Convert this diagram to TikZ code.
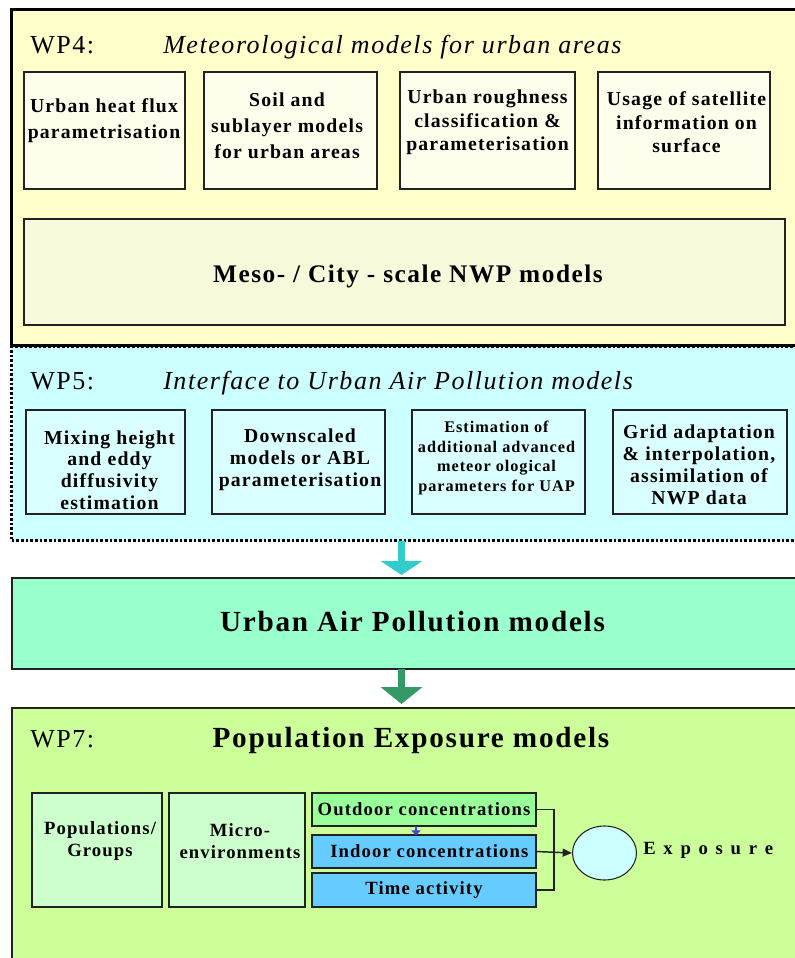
\documentclass[tikz,border=0pt]{standalone}
\usepackage{fontspec}
\setmainfont[LetterSpace=6]{Liberation Serif}
\usetikzlibrary{arrows.meta,calc,shapes.geometric}

\definecolor{wpfour}{HTML}{FFFFCC}
\definecolor{wpfourin}{HTML}{FEFEEC}
\definecolor{mesofill}{HTML}{F8F8DA}
\definecolor{wpfive}{HTML}{CCFFFF}
\definecolor{wpfivein}{HTML}{DAFFFF}
\definecolor{uapfill}{HTML}{99FFCC}
\definecolor{wpseven}{HTML}{CCFF99}
\definecolor{popfill}{HTML}{CCFFCC}
\definecolor{outfill}{HTML}{99FF99}
\definecolor{infill}{HTML}{66CCFF}
\definecolor{expofill}{HTML}{CCFFFF}
\definecolor{arrowcyan}{HTML}{33CCCC}
\definecolor{arrowgreen}{HTML}{339966}
\definecolor{edge}{HTML}{222222}
\definecolor{linkblue}{HTML}{4444DD}

\begin{document}
\begin{tikzpicture}[x=0.75pt,y=-0.75pt,
  sz/.style 2 args={minimum width=#1*0.75pt, minimum height=#2*0.75pt},
  panel/.style={rectangle, inner sep=0pt, outer sep=0pt},
  inbox/.style={panel, draw=edge, line width=1.2pt},
  txt/.style={inner sep=0pt, outer sep=0pt, align=center},
  wptag/.style={inner sep=0pt, anchor=base west, font=\fontsize{19.5}{21}\selectfont},
  wptitle/.style={inner sep=0pt, anchor=base west, font=\fontsize{19.5}{21}\selectfont\itshape},
  bigtitle/.style={inner sep=0pt, anchor=base, font=\fontsize{21.9}{25}\selectfont\bfseries},
  boxfont/.style={font=\fontsize{14.8}{#1}\selectfont\bfseries},
  smallfont/.style={font=\fontsize{14}{16.5}\selectfont\bfseries},
  bigarrow/.style={line width=5.7pt, -{Triangle[width=30.75pt,length=#1]}},
  conn/.style={draw=edge, line width=1.1pt}
]
\useasboundingbox (0,0) rectangle (794,958);

% ---------- WP5 panel (dotted frame, drawn first) ----------
\node[panel, sz={788.5}{193.5}, fill=wpfive, draw=black,
      line width=2.2pt, dash pattern=on 2pt off 1.5pt] (wp5) at (405.75,443.75) {};

% ---------- WP4 panel ----------
\node[panel, sz={788.5}{336}, fill=wpfour, draw=black, line width=2.25pt] (wp4) at (405.75,177) {};
\node[wptag] (wp4tag) at (30,53) {WP4:};
\node[wptitle] (wp4title) at (163,53) {Meteorological models for urban areas};

\node[inbox, fill=wpfourin, sz={161}{117}] (a1) at (104.5,130.5) {};
\node[inbox, fill=wpfourin, sz={173}{117}] (a2) at (290.5,130.5) {};
\node[inbox, fill=wpfourin, sz={175}{117}] (a3) at (487.5,130.5) {};
\node[inbox, fill=wpfourin, sz={172}{117}] (a4) at (684,130.5) {};
\node[txt, boxfont=19.5pt] (a1t) at (104,121) {Urban heat flux\\parametrisation};
\node[txt, boxfont=19.5pt] (a2t) at (287,125.5) {Soil and\\sublayer models\\for urban areas};
\node[txt, boxfont=17.6pt] (a3t) at (487.5,122.5) {Urban roughness\\classification \&\\parameterisation};
\node[txt, boxfont=17.6pt] (a4t) at (686.5,122.5) {Usage of satellite\\information on\\surface};

\node[inbox, fill=mesofill, sz={761}{106}] (meso) at (404.5,272) {};
\node[inner sep=0pt, anchor=base, font=\fontsize{19}{21}\selectfont\bfseries] (mesot) at (408,282)
  {Meso- / City - scale NWP models};

% ---------- WP5 contents ----------
\node[wptag] (wp5tag) at (30,389) {WP5:};
\node[wptitle] (wp5title) at (163,389) {Interface to Urban Air Pollution models};

\node[inbox, fill=wpfivein, sz={159}{104}] (b1) at (105.5,462) {};
\node[inbox, fill=wpfivein, sz={173}{104}] (b2) at (298.5,462) {};
\node[inbox, fill=wpfivein, sz={173}{104}] (b3) at (498.5,462) {};
\node[inbox, fill=wpfivein, sz={174}{104}] (b4) at (700,462) {};
\node[txt, boxfont=16.3pt] (b1t) at (109.5,470) {Mixing height\\and eddy\\diffusivity\\estimation};
\node[txt, boxfont=16.5pt] (b2t) at (300,460) {Downscaled\\models or ABL\\parameterisation};
\node[txt, font=\fontsize{12.2}{14.6}\selectfont\bfseries] (b3t) at (496.5,458)
  {Estimation of\\additional advanced\\meteor ological\\parameters for UAP};
\node[txt, boxfont=16.5pt] (b4t) at (699,465) {Grid adaptation\\\& interpolation,\\assimilation of\\NWP data};

% ---------- Urban Air Pollution models ----------
\node[panel, sz={788}{91}, fill=uapfill, draw=edge, line width=0.8pt] (uap) at (406,623.5) {};
\node[bigtitle] (uapt) at (412.5,631.5) {Urban Air Pollution models};

% ---------- WP7 panel ----------
\node[panel, sz={788}{262}, fill=wpseven, draw=edge, line width=0.8pt] (wp7) at (406,839) {};
\node[wptag] (wp7tag) at (30,747) {WP7:};
\node[bigtitle] (wp7title) at (411,747) {Population Exposure models};

\node[inbox, fill=popfill, sz={130}{114}] (pop) at (97,850) {};
\node[inbox, fill=popfill, sz={136}{114}] (micro) at (237,850) {};
\node[txt, smallfont] (popt) at (100,841) {Populations/\\Groups};
\node[txt, smallfont] (microt) at (240,841) {Micro-\\environments};

\node[inbox, fill=outfill, sz={224}{33}, smallfont] (out) at (424,809.5) {Outdoor concentrations};
\node[inbox, fill=infill, sz={224}{33}, smallfont] (in) at (424,851.5) {\hspace{8pt}Indoor concentrations};
\node[inbox, fill=infill, sz={224}{34}, smallfont] (time) at (424,890) {Time activity};

\node[ellipse, draw=edge, line width=0.8pt, fill=expofill, inner sep=0pt,
      minimum width=48pt, minimum height=40.5pt] (expo) at (604.5,853) {};
\node[inner sep=0pt, anchor=west, font=\fontsize{14}{16}\selectfont\bfseries] (expot) at (643,850)
  {E\hspace{5.8pt}x\hspace{5.8pt}p\hspace{5.8pt}o\hspace{5.8pt}s\hspace{5.8pt}u\hspace{5.8pt}r\hspace{5.8pt}e};

% ---------- connectors ----------
\coordinate (colA) at (401.5,0);
\coordinate (colB) at (416,0);
\coordinate (jn) at (554,890);

\draw[bigarrow=10.5pt, draw=arrowcyan, fill=arrowcyan, shorten >=2.25pt]
  (wp5.south -| colA) -- (uap.north -| colA);
\draw[bigarrow=12.75pt, draw=arrowgreen, fill=arrowgreen, shorten >=3pt]
  (uap.south -| colA) -- (wp7.north -| colA);

\draw[conn] (out.east) -| (jn) -- (time.east);
\draw[conn, -{Triangle[width=6pt,length=7pt]}] (in.east) -- (expo.west);
\draw[draw=linkblue, line width=1.4pt, -{Triangle[width=7pt,length=3.5pt]}]
  (out.south -| colB) -- (in.north -| colB);
\end{tikzpicture}
\end{document}
